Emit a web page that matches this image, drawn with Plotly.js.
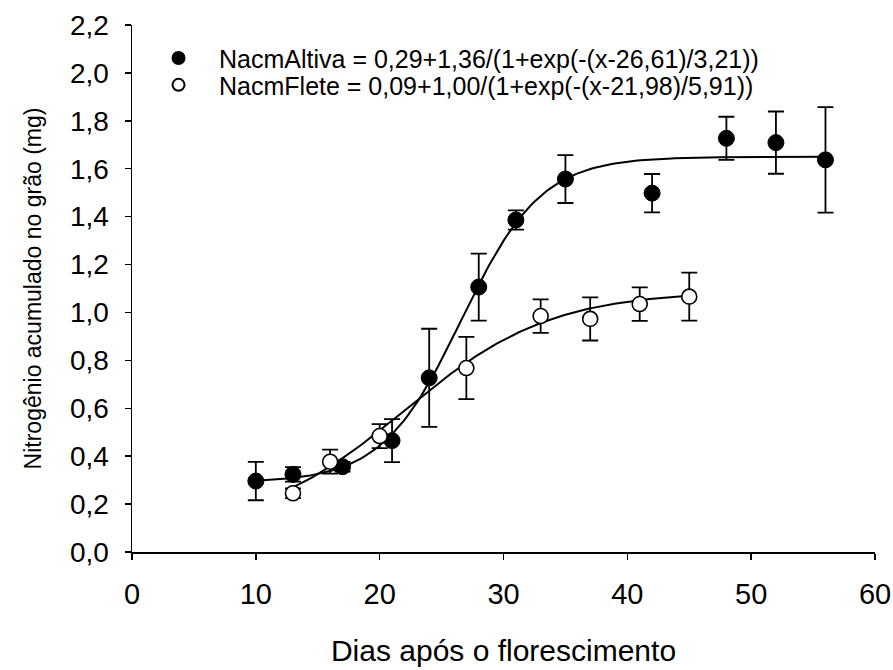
<!DOCTYPE html>
<html>
<head>
<meta charset="utf-8">
<script src="https://cdn.plot.ly/plotly-3.0.1.min.js"></script>
<style>html,body{margin:0;padding:0;background:#fff;}#chart{width:893px;height:670px;}</style>
</head>
<body>
<div id="chart"></div>
<script>
const altivaDays = [10, 13, 17, 21, 24, 28, 31, 35, 42, 48, 52, 56];
const altivaN    = [0.296, 0.324, 0.356, 0.465, 0.727, 1.106, 1.386, 1.557, 1.498, 1.727, 1.709, 1.637];
const altivaErr  = [0.08, 0.03, 0.02, 0.09, 0.205, 0.14, 0.04, 0.10, 0.08, 0.09, 0.13, 0.22];

const fleteDays = [13, 16, 20, 27, 33, 37, 41, 45];
const fleteN    = [0.245, 0.377, 0.484, 0.768, 0.985, 0.973, 1.035, 1.066];
const fleteErr  = [0.02, 0.05, 0.05, 0.13, 0.07, 0.09, 0.07, 0.10];

// Fitted sigmoid parameters printed in the legend: [a, b, x0, s]
const altivaFit = [0.29, 1.36, 26.61, 3.21];
const fleteFit  = [0.09, 1.00, 21.98, 5.91];
const altivaFitRange = [10, 56];
const fleteFitRange  = [13, 45];

const legendNames = [
  'NacmAltiva = 0,29+1,36/(1+exp(-(x-26,61)/3,21))',
  'NacmFlete = 0,09+1,00/(1+exp(-(x-21,98)/5,91))'
];
const xTitle = 'Dias após o florescimento';
const yTitle = 'Nitrogênio acumulado no grão (mg)';

function fitCurve(p, range) {
  const xs = [], ys = [];
  const n = 200;
  for (let i = 0; i <= n; i++) {
    const x = range[0] + (range[1] - range[0]) * i / n;
    xs.push(x);
    ys.push(p[0] + p[1] / (1 + Math.exp(-(x - p[2]) / p[3])));
  }
  return {x: xs, y: ys};
}

const ca = fitCurve(altivaFit, altivaFitRange);
const cf = fitCurve(fleteFit, fleteFitRange);

const traces = [
  {x: ca.x, y: ca.y, mode: 'lines', line: {color: '#000', width: 2}, showlegend: false, hoverinfo: 'skip'},
  {x: cf.x, y: cf.y, mode: 'lines', line: {color: '#000', width: 2}, showlegend: false, hoverinfo: 'skip'},
  {x: altivaDays, y: altivaN, mode: 'markers', name: legendNames[0], legend: 'legend',
   marker: {symbol: 'circle', size: 16, color: '#000', line: {color: '#000', width: 1}},
   error_y: {type: 'data', array: altivaErr, visible: true, color: '#000', thickness: 1.8, width: 8}},
  {x: fleteDays, y: fleteN, mode: 'markers', name: legendNames[1], legend: 'legend2',
   marker: {symbol: 'circle', size: 15, color: '#fff', line: {color: '#000', width: 1.6}},
   error_y: {type: 'data', array: fleteErr, visible: true, color: '#000', thickness: 1.8, width: 8}}
];

const font = 'Liberation Sans, Arial, sans-serif';
const legendBase = {xanchor: 'left', yanchor: 'middle', bgcolor: 'rgba(0,0,0,0)', itemwidth: 71,
  font: {size: 25, family: font, color: '#000'}, itemsizing: 'constant'};
const layout = {
  width: 893, height: 670,
  margin: {l: 132, r: 18, t: 25, b: 118},
  paper_bgcolor: '#fff', plot_bgcolor: '#fff',
  separators: ',.',
  font: {family: font, color: '#000'},
  showlegend: true,
  legend: Object.assign({}, legendBase, {x: 0.0081, y: 0.937}),
  legend2: Object.assign({}, legendBase, {x: 0.0081, y: 0.886}),
  xaxis: {
    range: [0, 60], tick0: 0, dtick: 10, ticks: 'outside', ticklen: 6, tickwidth: 1.5, tickcolor: '#000',
    showline: true, linecolor: '#000', linewidth: 1.5, showgrid: false, zeroline: false,
    tickfont: {size: 29, family: font}, ticklabelstandoff: 10,
    title: {text: xTitle, font: {size: 30, family: font}, standoff: 30}
  },
  yaxis: {
    range: [0, 2.2], tick0: 0, dtick: 0.2, tickformat: '.1f', ticks: 'outside', ticklen: 6, tickwidth: 1.5, tickcolor: '#000',
    showline: true, linecolor: '#000', linewidth: 1.5, showgrid: false, zeroline: false,
    tickfont: {size: 28, family: font}, ticklabelstandoff: 10,
    title: {text: yTitle, font: {size: 23, family: font}, standoff: 22}
  }
};

Plotly.newPlot('chart', traces, layout, {displayModeBar: false, staticPlot: true});
</script>
</body>
</html>
